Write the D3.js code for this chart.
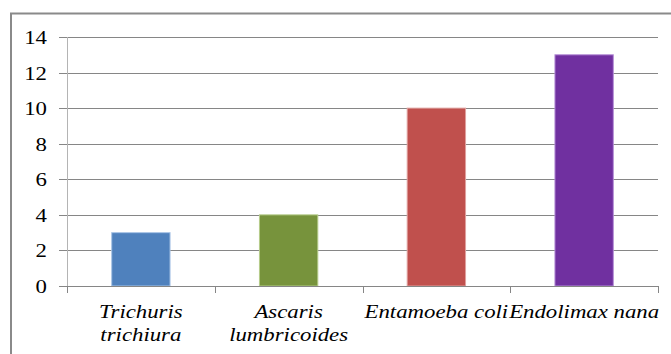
<!DOCTYPE html>
<html><head><meta charset="utf-8">
<script src="https://cdn.jsdelivr.net/npm/d3@7"></script>
<style>body{margin:0;background:#fff}</style>
</head><body>
<script>
const categories = [["Trichuris","trichiura"],["Ascaris","lumbricoides"],["Entamoeba coli"],["Endolimax nana"]];
const values = [3, 4, 10, 13];
const colors = ["#4F81BD", "#77933C", "#C0504D", "#7030A0"];
const edgeColors = ["#A9C4E6", "#B5CC8A", "#E0A09E", "#B58FD6"];
const yTicks = [0, 2, 4, 6, 8, 10, 12, 14];

const W = 671, H = 354, SX = 1.2;
const FONT = "'Liberation Serif', 'Times New Roman', Tinos, serif";
const svg = d3.select("body").append("svg").attr("width", W).attr("height", H);

svg.append("rect").attr("x", 11).attr("y", 13.5).attr("width", 700).attr("height", 400)
  .attr("fill", "none").attr("stroke", "#8a8a8a").attr("stroke-width", 2);

const mL = 67, mR = 658, mT = 37, mB = 286;
const x = d3.scaleBand().domain(d3.range(categories.length)).range([mL, mR]);
const y = d3.scaleLinear().domain([0, 14]).range([mB, mT]);

svg.append("g").selectAll("line").data(yTicks.filter(d => d > 0)).join("line")
  .attr("x1", mL - 8).attr("x2", mR)
  .attr("y1", d => Math.round(y(d)) + 0.5).attr("y2", d => Math.round(y(d)) + 0.5)
  .attr("stroke", "#868686").attr("stroke-width", 1);

svg.append("line").attr("x1", mL + 0.5).attr("x2", mL + 0.5).attr("y1", mT).attr("y2", mB + 0.5)
  .attr("stroke", "#b4b4b4");

svg.append("g").selectAll("text").data(yTicks).join("text")
  .attr("text-anchor", "end")
  .attr("transform", d => `translate(47,${y(d) + 7}) scale(${SX},1)`)
  .attr("font-family", FONT)
  .style("font-family", FONT, "important").style("font-size", "19px", "important")
  .attr("fill", "#000").text(d => d);

const bw = x.bandwidth() * 0.395;
svg.append("g").selectAll("rect").data(values).join("rect")
  .attr("x", (d, i) => x(i) + (x.bandwidth() - bw) / 2)
  .attr("y", d => y(d))
  .attr("width", bw).attr("height", d => y(0) - y(d))
  .attr("fill", (d, i) => colors[i]).attr("stroke", (d, i) => edgeColors[i]).attr("stroke-width", 1);

svg.append("line").attr("x1", mL - 8).attr("x2", mR).attr("y1", mB + 0.5).attr("y2", mB + 0.5)
  .attr("stroke", "#868686");
const xt = d3.range(categories.length + 1).map(i => mL + i * x.step());
svg.append("g").selectAll("line").data(xt).join("line")
  .attr("x1", d => Math.round(d) + 0.5).attr("x2", d => Math.round(d) + 0.5)
  .attr("y1", mB).attr("y2", mB + 7).attr("stroke", "#868686");

const labelRows = [];
categories.forEach((lines, i) => lines.forEach((line, j) => labelRows.push({i, j, line})));
svg.append("g").selectAll("text").data(labelRows).join("text")
  .attr("text-anchor", "middle")
  .attr("transform", d => `translate(${x(d.i) + x.bandwidth() / 2},${318 + d.j * 22.5}) scale(${SX},1)`)
  .attr("font-family", FONT)
  .style("font-family", FONT, "important").style("font-style", "italic", "important")
  .style("font-size", "19px", "important")
  .attr("fill", "#000").text(d => d.line);
</script>
</body></html>
